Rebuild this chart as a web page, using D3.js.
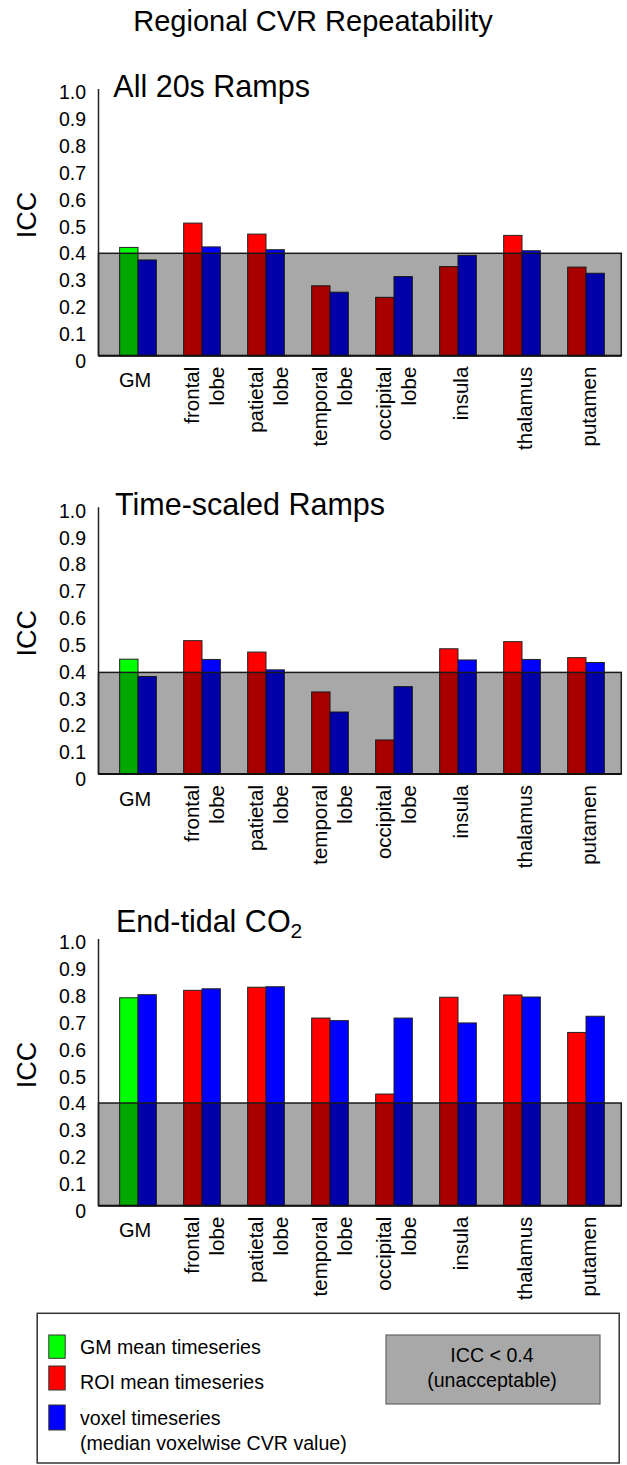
<!DOCTYPE html>
<html>
<head>
<meta charset="utf-8">
<title>Regional CVR Repeatability</title>
<style>
  body { margin: 0; background: #fff; }
  text { font-family: "Liberation Sans", Arial, sans-serif; fill: #000; }
</style>
</head>
<body>
<script src="https://cdn.jsdelivr.net/npm/d3@7"></script>
<script>
// ---- data ----
var regions = ["GM", "frontal lobe", "patietal lobe", "temporal lobe", "occipital lobe", "insula", "thalamus", "putamen"];
var yTicks = [0, 0.1, 0.2, 0.3, 0.4, 0.5, 0.6, 0.7, 0.8, 0.9, 1.0];
var yTickLabels = ["0", "0.1", "0.2", "0.3", "0.4", "0.5", "0.6", "0.7", "0.8", "0.9", "1.0"];
var threshold = 0.4;
var panelTitles = [["All 20s Ramps", ""], ["Time-scaled Ramps", ""], ["End-tidal CO", "2"]];

// first value of each "roi" series is the GM mean timeseries
var ramps20Roi = [0.423, 0.518, 0.475, 0.273, 0.228, 0.348, 0.470, 0.346];
var ramps20Vox = [0.374, 0.425, 0.414, 0.248, 0.309, 0.392, 0.410, 0.322];
var scaledRoi  = [0.452, 0.525, 0.480, 0.323, 0.134, 0.493, 0.521, 0.458];
var scaledVox  = [0.384, 0.451, 0.410, 0.244, 0.344, 0.449, 0.451, 0.439];
var etco2Roi   = [0.810, 0.839, 0.851, 0.731, 0.435, 0.812, 0.821, 0.675];
var etco2Vox   = [0.822, 0.845, 0.853, 0.721, 0.731, 0.712, 0.813, 0.738];

var legendLabels = [["GM mean timeseries"], ["ROI mean timeseries"], ["voxel timeseries", "(median voxelwise CVR value)"]];
var thresholdLabel = ["ICC < 0.4", "(unacceptable)"];

// ---- layout ----
var w = 627, h = 1465;
var colGM = "#00ff00", colROI = "#ff0000", colVox = "#0000ff";
var x0 = 98.5, x1 = 621.3;
var panelBase = [355.7, 774, 1205.7];
var panelUnit = [256, 254, 256.7];
var titleLift = [259, 259, 274];
var titleX = [113.3, 115, 116];

var panels = [
  { roi: ramps20Roi, vox: ramps20Vox },
  { roi: scaledRoi, vox: scaledVox },
  { roi: etco2Roi, vox: etco2Vox }
];

var svg = d3.select("body").append("svg")
    .attr("width", w)
    .attr("height", h);

svg.append("text")
    .attr("x", 313)
    .attr("y", 31)
    .attr("text-anchor", "middle")
    .attr("font-size", "29px")
    .text("Regional CVR Repeatability");

var x = d3.scaleBand()
    .domain(regions)
    .range([106, 618])
    .paddingInner(0.427)
    .paddingOuter(0.2135);
var sub = d3.scaleBand()
    .domain(["roi", "vox"])
    .range([0, x.bandwidth()]);

panels.forEach(function(p, pi) {
  var base = panelBase[pi];
  var y = d3.scaleLinear().domain([0, 1]).range([base, base - panelUnit[pi]]);
  // tick labels in the figure are spaced a little wider than the bars
  var yLab = d3.scaleLinear().domain([0, 1]).range([base + 5.3, base - 263]);
  var g = svg.append("g");

  var rows = regions.map(function(r, i) { return { region: r, i: i, roi: p.roi[i], vox: p.vox[i] }; });

  var grp = g.selectAll("g.grp")
    .data(rows)
    .enter().append("g")
      .attr("class", "grp")
      .attr("transform", function(d) { return "translate(" + x(d.region) + ",0)"; });

  grp.selectAll("rect")
    .data(function(d) {
      return [
        { key: "roi", v: d.roi, c: d.i === 0 ? colGM : colROI },
        { key: "vox", v: d.vox, c: colVox }
      ];
    })
    .enter().append("rect")
      .attr("x", function(d) { return sub(d.key); })
      .attr("y", function(d) { return y(d.v); })
      .attr("width", sub.bandwidth())
      .attr("height", function(d) { return y(0) - y(d.v); })
      .attr("fill", function(d) { return d.c; })
      .attr("stroke", "#222")
      .attr("stroke-width", 1);

  // unacceptable zone, darkens whatever is under it
  g.append("rect")
    .attr("x", x0)
    .attr("y", y(threshold))
    .attr("width", x1 - x0)
    .attr("height", y(0) - y(threshold))
    .attr("fill", "#000")
    .attr("fill-opacity", 0.34)
    .attr("stroke", "#1a1a1a")
    .attr("stroke-width", 1.5);

  g.append("line")
    .attr("x1", x0).attr("x2", x0)
    .attr("y1", base - 266.7).attr("y2", y(0))
    .attr("stroke", "#222")
    .attr("stroke-width", 1.5);
  g.append("line")
    .attr("x1", x0).attr("x2", x1)
    .attr("y1", y(0)).attr("y2", y(0))
    .attr("stroke", "#111")
    .attr("stroke-width", 2);

  var ax = g.append("g")
    .attr("transform", "translate(" + x0 + ",0)")
    .call(d3.axisLeft(yLab)
      .tickValues(yTicks)
      .tickFormat(function(d, i) { return yTickLabels[i]; })
      .tickSize(0)
      .tickPadding(12.5));
  ax.select(".domain").remove();
  ax.selectAll("text")
    .attr("font-size", "19.5px")
    .attr("font-family", "Liberation Sans, Arial, sans-serif")
    .attr("fill", "#000");

  g.append("text")
    .attr("transform", "translate(36.4," + (base - 140.7) + ") rotate(-90)")
    .attr("text-anchor", "middle")
    .attr("font-size", "27px")
    .text("ICC");

  var t = g.append("text")
    .attr("x", titleX[pi])
    .attr("y", base - titleLift[pi])
    .attr("font-size", "30.5px")
    .text(panelTitles[pi][0]);
  if (panelTitles[pi][1]) {
    t.append("tspan")
      .attr("font-size", "21px")
      .attr("dy", 6)
      .text(panelTitles[pi][1]);
  }

  // category labels
  regions.forEach(function(r, i) {
    var gc = x(r) + x.bandwidth() / 2;
    if (i === 0) {
      g.append("text")
        .attr("x", gc - 3)
        .attr("y", base + 31.6)
        .attr("text-anchor", "middle")
        .attr("font-size", "20px")
        .text(r);
      return;
    }
    var words = r.split(" ");
    var lab = g.append("text")
      .attr("transform", "translate(" + gc + "," + (base + 11) + ") rotate(-90)")
      .attr("text-anchor", "end")
      .attr("font-size", "20.5px");
    if (words.length === 1) {
      lab.append("tspan").attr("x", 0).attr("y", 9.5).text(words[0]);
    } else {
      words.forEach(function(wd, j) {
        lab.append("tspan").attr("x", 0).attr("y", -2.6 + 24.6 * j).text(wd);
      });
    }
  });
});

// ---- legend ----
var leg = svg.append("g");
leg.append("rect")
  .attr("x", 37.2).attr("y", 1313.3)
  .attr("width", 619.2 - 37.2).attr("height", 1463 - 1313.3)
  .attr("fill", "#fff")
  .attr("stroke", "#333")
  .attr("stroke-width", 1.5);

var swatchY = [1335, 1366, 1405];
var swatchH = [23.3, 24, 25];
var textY = [[1346.7], [1381.7], [1418.3, 1443.3]];
var swatchCol = [colGM, colROI, colVox];

legendLabels.forEach(function(lines, i) {
  leg.append("rect")
    .attr("x", 48.8).attr("y", swatchY[i])
    .attr("width", 16.4).attr("height", swatchH[i])
    .attr("fill", swatchCol[i])
    .attr("stroke", "#333")
    .attr("stroke-width", 1);
  lines.forEach(function(s, j) {
    leg.append("text")
      .attr("x", 80)
      .attr("y", textY[i][j])
      .attr("dy", "0.35em")
      .attr("font-size", "19.6px")
      .text(s);
  });
});

leg.append("rect")
  .attr("x", 386).attr("y", 1335)
  .attr("width", 214).attr("height", 69)
  .attr("fill", "#a8a8a8")
  .attr("stroke", "#666")
  .attr("stroke-width", 1.2);
thresholdLabel.forEach(function(s, j) {
  leg.append("text")
    .attr("x", 492)
    .attr("y", 1355 + 25 * j)
    .attr("dy", "0.35em")
    .attr("text-anchor", "middle")
    .attr("font-size", "19.6px")
    .text(s);
});
</script>
</body>
</html>
